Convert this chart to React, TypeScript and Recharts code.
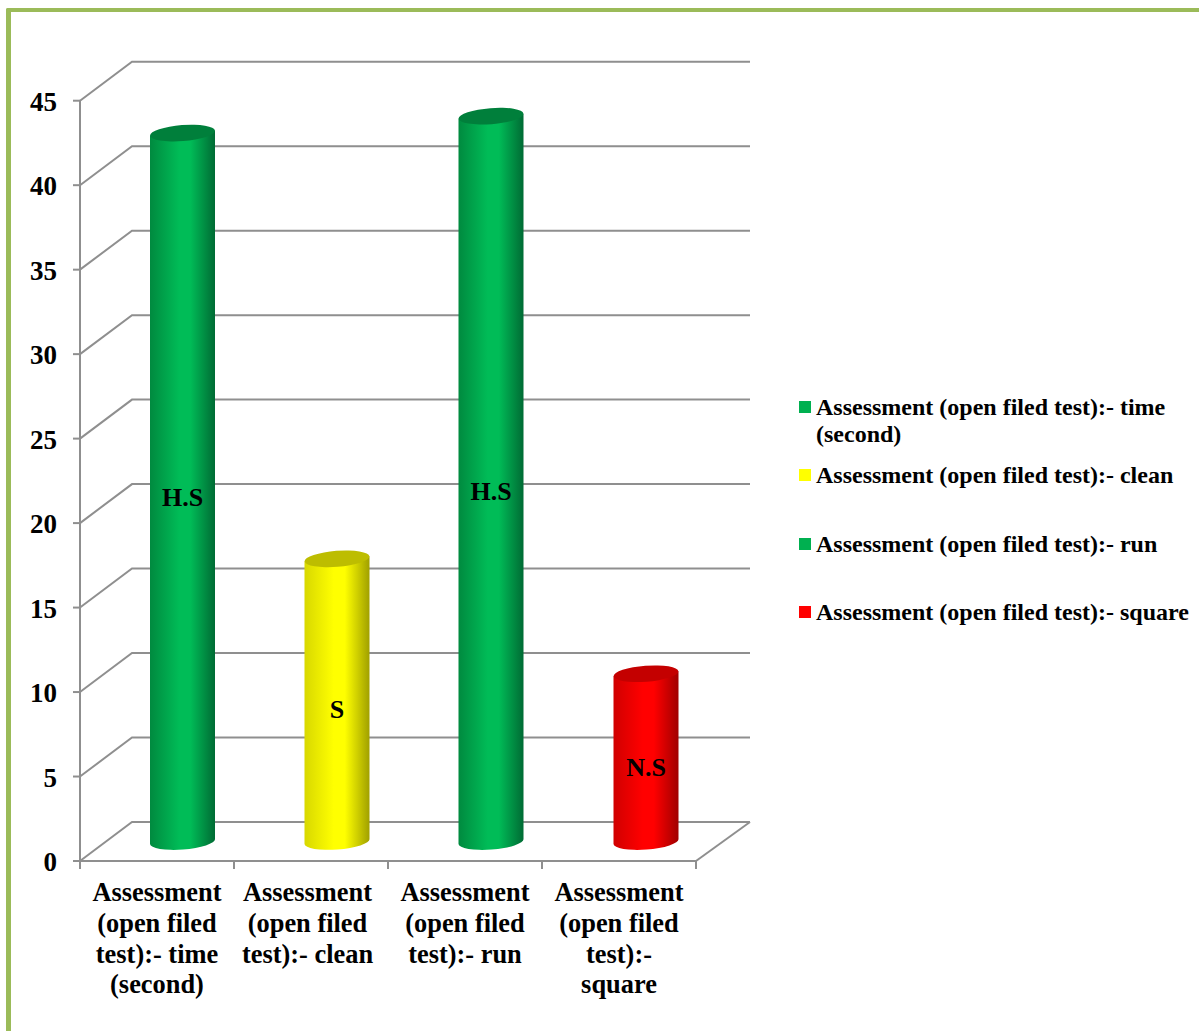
import React from "react";
import { BarChart, Bar, XAxis, YAxis, CartesianGrid, Legend, LabelList } from "recharts";

const categories = [
  ["Assessment", "(open filed", "test):- time", "(second)"],
  ["Assessment", "(open filed", "test):- clean"],
  ["Assessment", "(open filed", "test):- run"],
  ["Assessment", "(open filed", "test):-", "square"],
];
const values = [41.9, 16.7, 42.9, 9.9];
const significance = ["H.S", "S", "H.S", "N.S"];
const yTicks = [0, 5, 10, 15, 20, 25, 30, 35, 40, 45];
const legendLabels = [
  ["Assessment (open filed test):- time", "(second)"],
  ["Assessment (open filed test):- clean"],
  ["Assessment (open filed test):- run"],
  ["Assessment (open filed test):- square"],
];
const legendColors = ["#00B050", "#FFFF00", "#00B050", "#FF0000"];
const shades = [
  { edgeL: "#008A3F", mid: "#00BC57", edgeR: "#006B34", top: "#007F3B" },
  { edgeL: "#D8D800", mid: "#FFFF00", edgeR: "#A0A000", top: "#BDBD00" },
  { edgeL: "#008A3F", mid: "#00BC57", edgeR: "#006B34", top: "#007F3B" },
  { edgeL: "#D00000", mid: "#FF0000", edgeR: "#A00000", top: "#C40000" },
];

const table = values.map((value, i) => ({
  key: "c" + i,
  lines: categories[i],
  value,
  sig: significance[i],
}));

const FONT = "'Liberation Serif', 'Times New Roman', serif";
const WIDTH = 1199;
const HEIGHT = 1031;
const LEFT = 80;
const RIGHT = 696;
const TOP = 100.7;
const BOTTOM = 861;
const DEPTH_X = 52;
const DEPTH_Y = 39;
const WALL_RIGHT = 750;
const GRID = "#8F8F8F";
const BAND = (RIGHT - LEFT) / categories.length;
const TILT = -4.4;
const labelNudge = [0, -3.5, 0, 0];
const sigNudge = [0, 0, 3, 0];
const barNudge = [0, 0.5, 0.5, 1.5];

const GridLine = (p: any) => {
  const { x1, y1, index } = p;
  const d = `M${x1} ${y1}L${x1 + DEPTH_X} ${y1 - DEPTH_Y}L${WALL_RIGHT} ${y1 - DEPTH_Y}`;
  const floor = Math.abs(y1 - BOTTOM) < 1;
  return (
    <g key={"g" + index}>
      <path d={d} fill="none" stroke={GRID} strokeWidth={2} />
      {floor && (
        <path d={`M${RIGHT} ${y1}L${WALL_RIGHT} ${y1 - DEPTH_Y}`} fill="none" stroke={GRID} strokeWidth={2} />
      )}
    </g>
  );
};

const XTick = (p: any) => {
  const { x, index, payload } = p;
  const row = table.find((t) => t.key === payload.value);
  const cx = x + labelNudge[index];
  return (
    <g>
      <line x1={x - BAND / 2} x2={x - BAND / 2} y1={BOTTOM} y2={BOTTOM + 8} stroke={GRID} strokeWidth={2} />
      {index === categories.length - 1 && (
        <line x1={x + BAND / 2} x2={x + BAND / 2} y1={BOTTOM} y2={BOTTOM + 8} stroke={GRID} strokeWidth={2} />
      )}
      <text textAnchor="middle" fontFamily={FONT} fontWeight="bold" fontSize={26.4} fill="#000">
        {row?.lines.map((l, i) => (
          <tspan key={i} x={cx} y={901 + i * 30.8}>
            {l}
          </tspan>
        ))}
      </text>
    </g>
  );
};

const Cylinder = (p: any) => {
  const { x, y, width, height, index } = p;
  const s = shades[index];
  const id = "cyl" + index;
  const left = x + DEPTH_X / 2 - 1 + barNudge[index];
  const right = left + width;
  const cx = (left + right) / 2;
  const rx = width / 2;
  const top = y - DEPTH_Y / 2 - 0.5;
  const bot = y + height - DEPTH_Y / 2;
  const tiltDy = 2.5;
  return (
    <g>
      <defs>
        <linearGradient id={id} x1="0" x2="1" y1="0" y2="0">
          <stop offset="0" stopColor={s.edgeL} />
          <stop offset="0.45" stopColor={s.mid} />
          <stop offset="0.62" stopColor={s.mid} />
          <stop offset="1" stopColor={s.edgeR} />
        </linearGradient>
      </defs>
      <path
        d={`M${left} ${top + tiltDy}L${left} ${bot + tiltDy}A${rx} 8 ${TILT} 0 0 ${right} ${bot - tiltDy}L${right} ${top - tiltDy}Z`}
        fill={`url(#${id})`}
      />
      <ellipse cx={cx} cy={top} rx={rx} ry={8} fill={s.top} transform={`rotate(${TILT} ${cx} ${top})`} />
    </g>
  );
};

const SigLabel = (p: any) => {
  const { x, y, width, height, value, index } = p;
  return (
    <text
      x={x + width / 2 + DEPTH_X / 2 - 1 + barNudge[index]}
      y={y + height / 2 - 9.5 + 8 + sigNudge[index]}
      textAnchor="middle"
      fontFamily={FONT}
      fontWeight="bold"
      fontSize={26}
      fill="#000"
    >
      {value}
    </text>
  );
};

const LegendBox = () => (
  <div style={{ fontFamily: FONT, fontWeight: "bold", fontSize: 24, lineHeight: "27px", color: "#000" }}>
    {legendLabels.map((lines, i) => (
      <div key={i} style={{ position: "relative", paddingLeft: 17, marginBottom: i === 0 ? 14 : 41.5, whiteSpace: "nowrap" }}>
        <span
          style={{ position: "absolute", left: 0, top: 7, width: 12, height: 12, background: legendColors[i] }}
        />
        {lines.map((l, j) => (
          <div key={j}>{l}</div>
        ))}
      </div>
    ))}
  </div>
);

export default function App() {
  return (
    <div style={{ position: "absolute", left: 0, top: 0, width: WIDTH, height: HEIGHT, overflow: "hidden", background: "#fff" }}>
      <div
        style={{
          position: "absolute",
          left: 6,
          top: 8,
          right: 0,
          bottom: 0,
          borderLeft: "5px solid #9BBB59",
          borderTop: "4.5px solid #9BBB59",
          borderTopLeftRadius: 2,
        }}
      />
      <BarChart
        width={WIDTH}
        height={HEIGHT}
        data={table}
        margin={{ top: TOP, right: WIDTH - RIGHT - 400, bottom: 0, left: 0 }}
        barSize={65}
      >
        <CartesianGrid vertical={false} horizontal={GridLine} horizontalValues={yTicks} />
        <XAxis
          dataKey="key"
          height={HEIGHT - BOTTOM}
          interval={0}
          tick={XTick}
          tickLine={false}
          axisLine={{ stroke: GRID, strokeWidth: 2 }}
        />
        <YAxis
          width={LEFT}
          domain={[0, 45]}
          ticks={yTicks}
          interval={0}
          tickSize={7}
          tickMargin={16}
          tick={{ fontFamily: FONT, fontWeight: "bold", fontSize: 27, fill: "#000", dy: 0.5 }}
          tickLine={{ stroke: GRID, strokeWidth: 2 }}
          axisLine={{ stroke: GRID, strokeWidth: 2 }}
        />
        <Legend
          layout="vertical"
          align="right"
          verticalAlign="top"
          width={400}
          content={LegendBox}
          wrapperStyle={{ left: 799, top: 394, right: "auto", width: 400 }}
        />
        <Bar dataKey="value" shape={Cylinder} isAnimationActive={false}>
          <LabelList dataKey="sig" content={SigLabel} />
        </Bar>
      </BarChart>
    </div>
  );
}
